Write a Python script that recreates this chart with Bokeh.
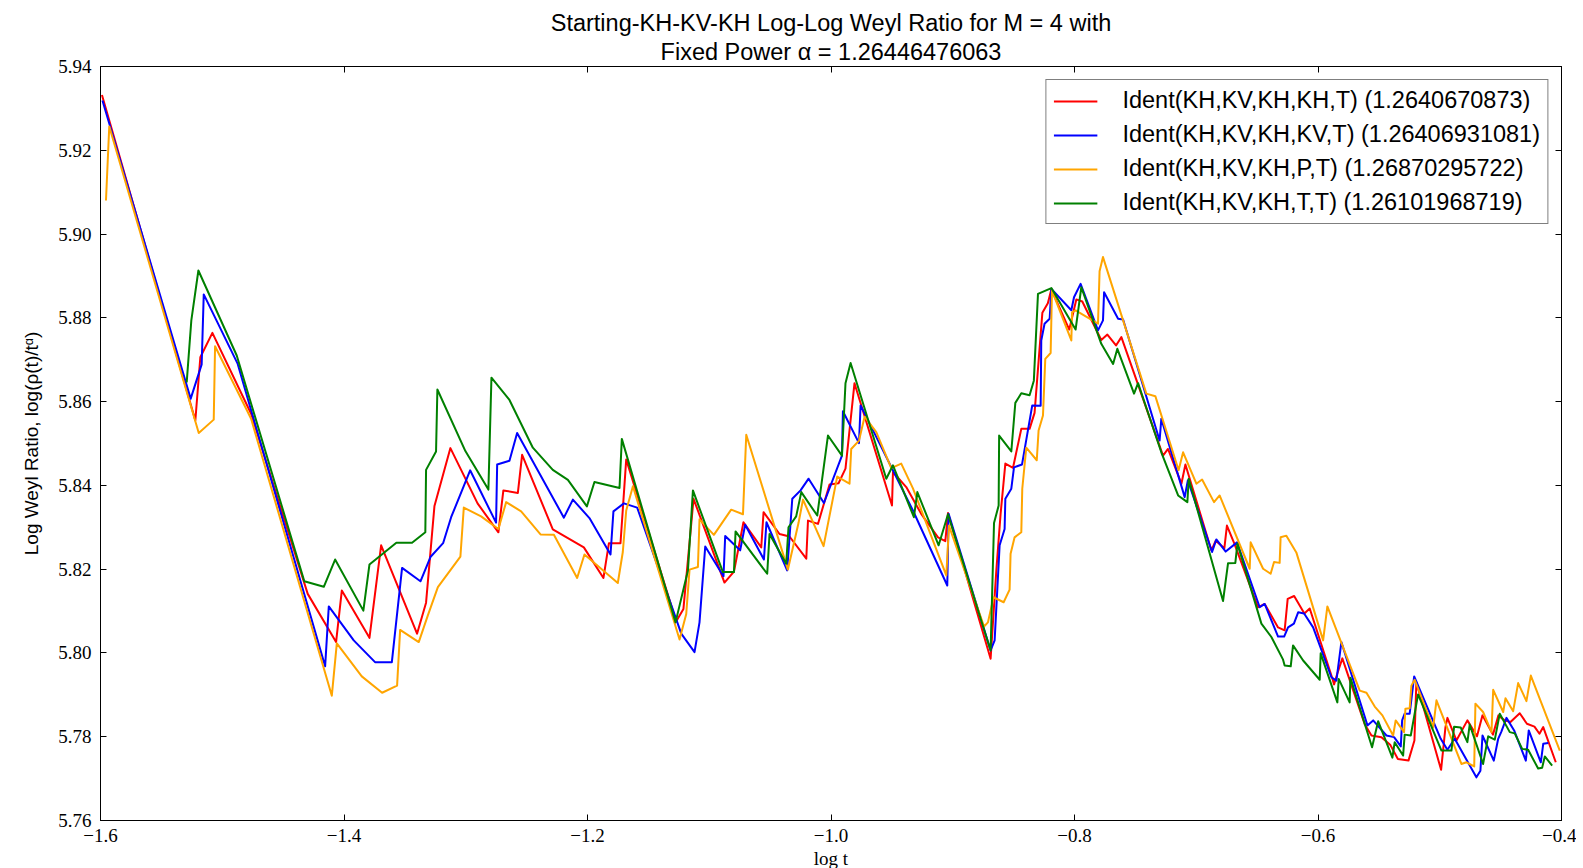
from bokeh.plotting import figure
from bokeh.models import (Range1d, LinearAxis, FixedTicker, CustomJSTickFormatter,
                          Legend, LegendItem, Title)
from bokeh.embed import file_html
from bokeh.resources import INLINE

title_line1 = "Starting-KH-KV-KH Log-Log Weyl Ratio for M = 4 with"
title_line2 = "Fixed Power \u03b1 = 1.26446476063"
x_label = "log t"
y_label = "Log Weyl Ratio, log(\u03c1(t)/t\u1d45)"

x_ticks = [-1.6, -1.4, -1.2, -1.0, -0.8, -0.6, -0.4]
y_ticks = [5.76, 5.78, 5.80, 5.82, 5.84, 5.86, 5.88, 5.90, 5.92, 5.94]

labels = ["Ident(KH,KV,KH,KH,T) (1.2640670873)",
          "Ident(KH,KV,KH,KV,T) (1.26406931081)",
          "Ident(KH,KV,KH,P,T) (1.26870295722)",
          "Ident(KH,KV,KH,T,T) (1.26101968719)"]
colors = ["#ff0000", "#0000ff", "#ffa500", "#008000"]

red_x = [-1.5988, -1.5221, -1.5180, -1.5081, -1.4763, -1.4298, -1.4065, -1.4018, -1.3791, -1.3695,
         -1.3400, -1.3326, -1.3257, -1.3126, -1.2903, -1.2732, -1.2691, -1.2572, -1.2537, -1.2285,
         -1.2030, -1.1869, -1.1824, -1.1729, -1.1682, -1.1272, -1.1212, -1.1129, -1.0875, -1.0797,
         -1.0719, -1.0573, -1.0554, -1.0423, -1.0341, -1.0203, -1.0189, -1.0107, -1.0012, -0.9938,
         -0.9881, -0.9807, -0.9499, -0.9491, -0.9382, -0.9259, -0.9121, -0.9061, -0.9039, -0.8689,
         -0.8642, -0.8607, -0.8568, -0.8505, -0.8437, -0.8369, -0.8328, -0.8264, -0.8219, -0.8190,
         -0.8043, -0.7985, -0.7936, -0.7780, -0.7730, -0.7659, -0.7615, -0.7273, -0.7232, -0.7122,
         -0.7089, -0.6876, -0.6840, -0.6769, -0.6748, -0.6687, -0.6492, -0.6438, -0.6328, -0.6274,
         -0.6249, -0.6196, -0.6112, -0.6068, -0.5882, -0.5868, -0.5841, -0.5800, -0.5615, -0.5561,
         -0.5479, -0.5405, -0.5344, -0.5257, -0.5208, -0.5192, -0.4989, -0.4953, -0.4937, -0.4863,
         -0.4773, -0.4694, -0.4649, -0.4563, -0.4518, -0.4468, -0.4419, -0.4343, -0.4284, -0.4222,
         -0.4181, -0.4150, -0.4047]
red_y = [5.9332, 5.8555, 5.8706, 5.8764, 5.8571, 5.8141, 5.8026, 5.8149, 5.8036, 5.8257,
         5.8046, 5.8120, 5.8351, 5.8489, 5.8357, 5.8288, 5.8388, 5.8382, 5.8473, 5.8295,
         5.8252, 5.8179, 5.8262, 5.8262, 5.8462, 5.8075, 5.8105, 5.8368, 5.8168, 5.8194,
         5.8312, 5.8252, 5.8336, 5.8284, 5.8278, 5.8225, 5.8316, 5.8308, 5.8402, 5.8405,
         5.8440, 5.8644, 5.8352, 5.8432, 5.8396, 5.8332, 5.8276, 5.8267, 5.8334, 5.7986,
         5.8197, 5.8332, 5.8452, 5.8442, 5.8535, 5.8535, 5.8573, 5.8812, 5.8835, 5.8868,
         5.8772, 5.8844, 5.8839, 5.8747, 5.8760, 5.8734, 5.8754, 5.8471, 5.8487, 5.8404,
         5.8450, 5.8245, 5.8268, 5.8250, 5.8304, 5.8261, 5.8109, 5.8117, 5.8061, 5.8054,
         5.8129, 5.8136, 5.8094, 5.8106, 5.7939, 5.7925, 5.7951, 5.7987, 5.7829, 5.7803,
         5.7799, 5.7780, 5.7747, 5.7743, 5.7791, 5.7930, 5.7721, 5.7823, 5.7845, 5.7791,
         5.7839, 5.7801, 5.7851, 5.7805, 5.7851, 5.7839, 5.7835, 5.7856, 5.7831, 5.7824,
         5.7807, 5.7823, 5.7739]

blue_x = [-1.5984, -1.5259, -1.5169, -1.5152, -1.4873, -1.4155, -1.4125, -1.3920, -1.3745, -1.3607,
          -1.3523, -1.3372, -1.3290, -1.3186, -1.3120, -1.2964, -1.2751, -1.2742, -1.2641, -1.2578,
          -1.2194, -1.2120, -1.1984, -1.1811, -1.1787, -1.1701, -1.1592, -1.1230, -1.1121, -1.1080,
          -1.1033, -1.0883, -1.0869, -1.0746, -1.0705, -1.0551, -1.0530, -1.0360, -1.0318, -1.0250,
          -1.0184, -1.0058, -0.9910, -0.9902, -0.9770, -0.9757, -0.9327, -0.9045, -0.9034, -0.8689,
          -0.8656, -0.8615, -0.8574, -0.8568, -0.8519, -0.8497, -0.8431, -0.8347, -0.8278, -0.8273,
          -0.8246, -0.8204, -0.8190, -0.8026, -0.8004, -0.7950, -0.7807, -0.7766, -0.7757, -0.7642,
          -0.7601, -0.7301, -0.7287, -0.7095, -0.7069, -0.6870, -0.6835, -0.6758, -0.6665, -0.6479,
          -0.6438, -0.6328, -0.6278, -0.6246, -0.6198, -0.6163, -0.6114, -0.6040, -0.5890, -0.5849,
          -0.5808, -0.5594, -0.5547, -0.5438, -0.5375, -0.5320, -0.5309, -0.5288, -0.5247, -0.5210,
          -0.4992, -0.4937, -0.4877, -0.4699, -0.4666, -0.4649, -0.4556, -0.4520, -0.4493, -0.4452,
          -0.4389, -0.4293, -0.4269, -0.4170, -0.4150, -0.4109]
blue_y = [5.9319, 5.8607, 5.8689, 5.8856, 5.8690, 5.7968, 5.8111, 5.8030, 5.7978, 5.7978,
          5.8203, 5.8171, 5.8229, 5.8262, 5.8324, 5.8436, 5.8311, 5.8450, 5.8459, 5.8525,
          5.8323, 5.8366, 5.8322, 5.8235, 5.8338, 5.8357, 5.8347, 5.8046, 5.8002, 5.8073,
          5.8254, 5.8183, 5.8279, 5.8245, 5.8306, 5.8223, 5.8312, 5.8197, 5.8368, 5.8388,
          5.8416, 5.8358, 5.8471, 5.8577, 5.8501, 5.8591, 5.8340, 5.8161, 5.8332, 5.8006,
          5.8030, 5.8257, 5.8296, 5.8368, 5.8392, 5.8443, 5.8450, 5.8591, 5.8590, 5.8746,
          5.8786, 5.8798, 5.8869, 5.8818, 5.8849, 5.8881, 5.8770, 5.8794, 5.8861, 5.8798,
          5.8796, 5.8507, 5.8559, 5.8372, 5.8412, 5.8241, 5.8271, 5.8242, 5.8264, 5.8109,
          5.8117, 5.8039, 5.8039, 5.8061, 5.8070, 5.8097, 5.8094, 5.8061, 5.7942, 5.7934,
          5.8026, 5.7827, 5.7839, 5.7803, 5.7799, 5.7777, 5.7839, 5.7855, 5.7855, 5.7944,
          5.7795, 5.7769, 5.7795, 5.7703, 5.7719, 5.7803, 5.7743, 5.7795, 5.7813, 5.7845,
          5.7815, 5.7743, 5.7815, 5.7739, 5.7783, 5.7785]

orange_x = [-1.5955, -1.5928, -1.5193, -1.5070, -1.5059, -1.4763, -1.4100, -1.4059, -1.3854, -1.3687,
            -1.3564, -1.3539, -1.3386, -1.3312, -1.3229, -1.3044, -1.3016, -1.2874, -1.2732, -1.2668,
            -1.2545, -1.2386, -1.2276, -1.2085, -1.2025, -1.1751, -1.1710, -1.1682, -1.1627, -1.1244,
            -1.1189, -1.1162, -1.1093, -1.1080, -1.0962, -1.0820, -1.0723, -1.0696, -1.0354, -1.0267,
            -1.0230, -1.0061, -0.9949, -0.9848, -0.9834, -0.9770, -0.9724, -0.9628, -0.9505, -0.9423,
            -0.9327, -0.9053, -0.9031, -0.8743, -0.8711, -0.8665, -0.8582, -0.8533, -0.8525, -0.8492,
            -0.8437, -0.8429, -0.8396, -0.8310, -0.8295, -0.8259, -0.8240, -0.8196, -0.8185, -0.8026,
            -0.8020, -0.7991, -0.7807, -0.7794, -0.7766, -0.7410, -0.7336, -0.7145, -0.7108, -0.6999,
            -0.6952, -0.6854, -0.6808, -0.6561, -0.6553, -0.6451, -0.6389, -0.6361, -0.6315, -0.6307,
            -0.6260, -0.6178, -0.5958, -0.5923, -0.5657, -0.5602, -0.5534, -0.5471, -0.5383, -0.5362,
            -0.5293, -0.5282, -0.5247, -0.5233, -0.5206, -0.5054, -0.5027, -0.4822, -0.4781, -0.4717,
            -0.4707, -0.4644, -0.4575, -0.4561, -0.4479, -0.4460, -0.4397, -0.4356, -0.4288, -0.4252,
            -0.4014]
orange_y = [5.9080, 5.9257, 5.8525, 5.8557, 5.8732, 5.8559, 5.7898, 5.8023, 5.7944, 5.7905,
            5.7922, 5.8055, 5.8026, 5.8089, 5.8157, 5.8230, 5.8347, 5.8326, 5.8296, 5.8360,
            5.8338, 5.8283, 5.8282, 5.8179, 5.8235, 5.8167, 5.8241, 5.8340, 5.8398, 5.8032,
            5.8093, 5.8199, 5.8205, 5.8319, 5.8282, 5.8342, 5.8331, 5.8521, 5.8199, 5.8310,
            5.8366, 5.8255, 5.8421, 5.8404, 5.8487, 5.8507, 5.8564, 5.8527, 5.8441, 5.8452,
            5.8393, 5.8185, 5.8304, 5.8063, 5.8073, 5.8133, 5.8121, 5.8151, 5.8237, 5.8276,
            5.8288, 5.8392, 5.8490, 5.8460, 5.8531, 5.8567, 5.8702, 5.8716, 5.8865, 5.8746,
            5.8813, 5.8818, 5.8786, 5.8911, 5.8945, 5.8619, 5.8613, 5.8436, 5.8479, 5.8404,
            5.8414, 5.8360, 5.8376, 5.8201, 5.8264, 5.8201, 5.8189, 5.8217, 5.8215, 5.8276,
            5.8280, 5.8240, 5.8030, 5.8111, 5.7910, 5.7905, 5.7872, 5.7851, 5.7803, 5.7839,
            5.7811, 5.7867, 5.7868, 5.7922, 5.7936, 5.7822, 5.7887, 5.7735, 5.7739, 5.7729,
            5.7879, 5.7859, 5.7811, 5.7912, 5.7859, 5.7892, 5.7861, 5.7928, 5.7885, 5.7946,
            5.7767]

green_x = [-1.5292, -1.5254, -1.5196, -1.4881, -1.4326, -1.4166, -1.4073, -1.3841, -1.3791, -1.3570,
           -1.3441, -1.3332, -1.3326, -1.3244, -1.3233, -1.3003, -1.2814, -1.2789, -1.2641, -1.2449,
           -1.2285, -1.2161, -1.2005, -1.1943, -1.1737, -1.1718, -1.1277, -1.1175, -1.1134, -1.0888,
           -1.0797, -1.0784, -1.0524, -1.0505, -1.0368, -1.0349, -1.0286, -1.0244, -1.0113, -1.0025,
           -0.9910, -0.9881, -0.9839, -0.9546, -0.9491, -0.9319, -0.9291, -0.9116, -0.9039, -0.8689,
           -0.8661, -0.8623, -0.8619, -0.8519, -0.8486, -0.8437, -0.8369, -0.8334, -0.8300, -0.8190,
           -0.7991, -0.7944, -0.7780, -0.7683, -0.7648, -0.7511, -0.7478, -0.7287, -0.7149, -0.7073,
           -0.7062, -0.6780, -0.6739, -0.6679, -0.6662, -0.6465, -0.6383, -0.6287, -0.6274, -0.6224,
           -0.6205, -0.6122, -0.5986, -0.5978, -0.5841, -0.5830, -0.5740, -0.5734, -0.5556, -0.5506,
           -0.5389, -0.5370, -0.5301, -0.5288, -0.5238, -0.5178, -0.4986, -0.4904, -0.4882, -0.4828,
           -0.4773, -0.4754, -0.4644, -0.4602, -0.4548, -0.4507, -0.4425, -0.4384, -0.4323, -0.4274,
           -0.4192, -0.4159, -0.4137, -0.4077]
green_y = [5.8646, 5.8794, 5.8913, 5.8710, 5.8171, 5.8158, 5.8223, 5.8101, 5.8211, 5.8263,
           5.8263, 5.8288, 5.8437, 5.8481, 5.8629, 5.8482, 5.8390, 5.8657, 5.8604, 5.8490,
           5.8437, 5.8413, 5.8350, 5.8408, 5.8394, 5.8511, 5.8073, 5.8197, 5.8388, 5.8193,
           5.8193, 5.8290, 5.8189, 5.8284, 5.8213, 5.8300, 5.8326, 5.8384, 5.8328, 5.8519,
           5.8471, 5.8644, 5.8692, 5.8416, 5.8448, 5.8324, 5.8384, 5.8257, 5.8331, 5.8006,
           5.8310, 5.8352, 5.8519, 5.8481, 5.8597, 5.8620, 5.8615, 5.8650, 5.8857, 5.8871,
           5.8772, 5.8873, 5.8738, 5.8690, 5.8726, 5.8619, 5.8644, 5.8479, 5.8376, 5.8360,
           5.8416, 5.8124, 5.8214, 5.8215, 5.8261, 5.8070, 5.8038, 5.7984, 5.7970, 5.7968,
           5.8018, 5.7982, 5.7936, 5.7999, 5.7882, 5.7938, 5.7882, 5.7941, 5.7775, 5.7837,
           5.7750, 5.7787, 5.7755, 5.7805, 5.7803, 5.7901, 5.7767, 5.7767, 5.7824, 5.7822,
           5.7787, 5.7829, 5.7735, 5.7801, 5.7793, 5.7855, 5.7811, 5.7808, 5.7771, 5.7769,
           5.7724, 5.7726, 5.7753, 5.7731]

SANS = "Liberation Sans"
SERIF = "Liberation Serif"

p = figure(frame_width=1461, frame_height=754,
           min_border_left=100, min_border_right=15, min_border_top=66, min_border_bottom=48,
           x_range=Range1d(-1.6, -0.4), y_range=Range1d(5.76, 5.94),
           output_backend="svg", toolbar_location=None, title=None,
           background_fill_color="white", border_fill_color="white")

p.xgrid.grid_line_color = None
p.ygrid.grid_line_color = None
p.outline_line_color = "black"
p.outline_line_width = 1

xfmt = CustomJSTickFormatter(code="return (tick < 0 ? '\\u2212' : '') + Math.abs(tick).toFixed(1);")
yfmt = CustomJSTickFormatter(code="return tick.toFixed(2);")
blank = CustomJSTickFormatter(code="return '';")


def style_axis(ax, standoff):
    ax.major_tick_in = 6
    ax.major_tick_out = 0
    ax.minor_tick_line_color = None
    ax.axis_line_color = "black"
    ax.major_tick_line_color = "black"
    ax.major_label_text_color = "black"
    ax.major_label_text_font = SERIF
    ax.major_label_text_font_size = "19px"
    ax.major_label_standoff = standoff


xa = p.xaxis[0]
xa.ticker = FixedTicker(ticks=x_ticks)
xa.formatter = xfmt
style_axis(xa, 8)
xa.axis_label = x_label
xa.axis_label_text_font = SERIF
xa.axis_label_text_font_size = "19px"
xa.axis_label_text_font_style = "normal"
xa.axis_label_text_color = "black"
xa.axis_label_standoff = 3

ya = p.yaxis[0]
ya.ticker = FixedTicker(ticks=y_ticks)
ya.formatter = yfmt
style_axis(ya, 9)
ya.axis_label = y_label
ya.axis_label_text_font = SANS
ya.axis_label_text_font_size = "19px"
ya.axis_label_text_font_style = "normal"
ya.axis_label_text_color = "black"
ya.axis_label_standoff = 13

top_ax = LinearAxis(ticker=FixedTicker(ticks=x_ticks), formatter=blank)
style_axis(top_ax, 0)
top_ax.major_label_text_font_size = "0px"
right_ax = LinearAxis(ticker=FixedTicker(ticks=y_ticks), formatter=blank)
style_axis(right_ax, 0)
right_ax.major_label_text_font_size = "0px"
p.add_layout(top_ax, "above")
p.add_layout(right_ax, "right")

p.add_layout(Title(text=title_line2, align="center", text_font=SANS, text_font_size="23.5px",
                   text_font_style="normal", text_color="black", standoff=3), "above")
p.add_layout(Title(text=title_line1, align="center", text_font=SANS, text_font_size="23.5px",
                   text_font_style="normal", text_color="black", standoff=0), "above")

series = [(red_x, red_y), (blue_x, blue_y), (orange_x, orange_y), (green_x, green_y)]
items = []
for (xs, ys), c, lab in zip(series, colors, labels):
    r = p.line(xs, ys, line_color=c, line_width=2, line_join="round")
    items.append(LegendItem(label=lab, renderers=[r]))

legend = Legend(items=items, location="top_right",
                label_text_font=SANS, label_text_font_size="23.5px", label_text_color="black",
                glyph_width=44, glyph_height=24, label_height=24, label_standoff=25,
                spacing=7, padding=7, margin=13,
                border_line_color="black", border_line_width=1,
                background_fill_color="white", background_fill_alpha=1.0)
p.add_layout(legend)

open("out.html", "w").write(file_html(p, INLINE))
